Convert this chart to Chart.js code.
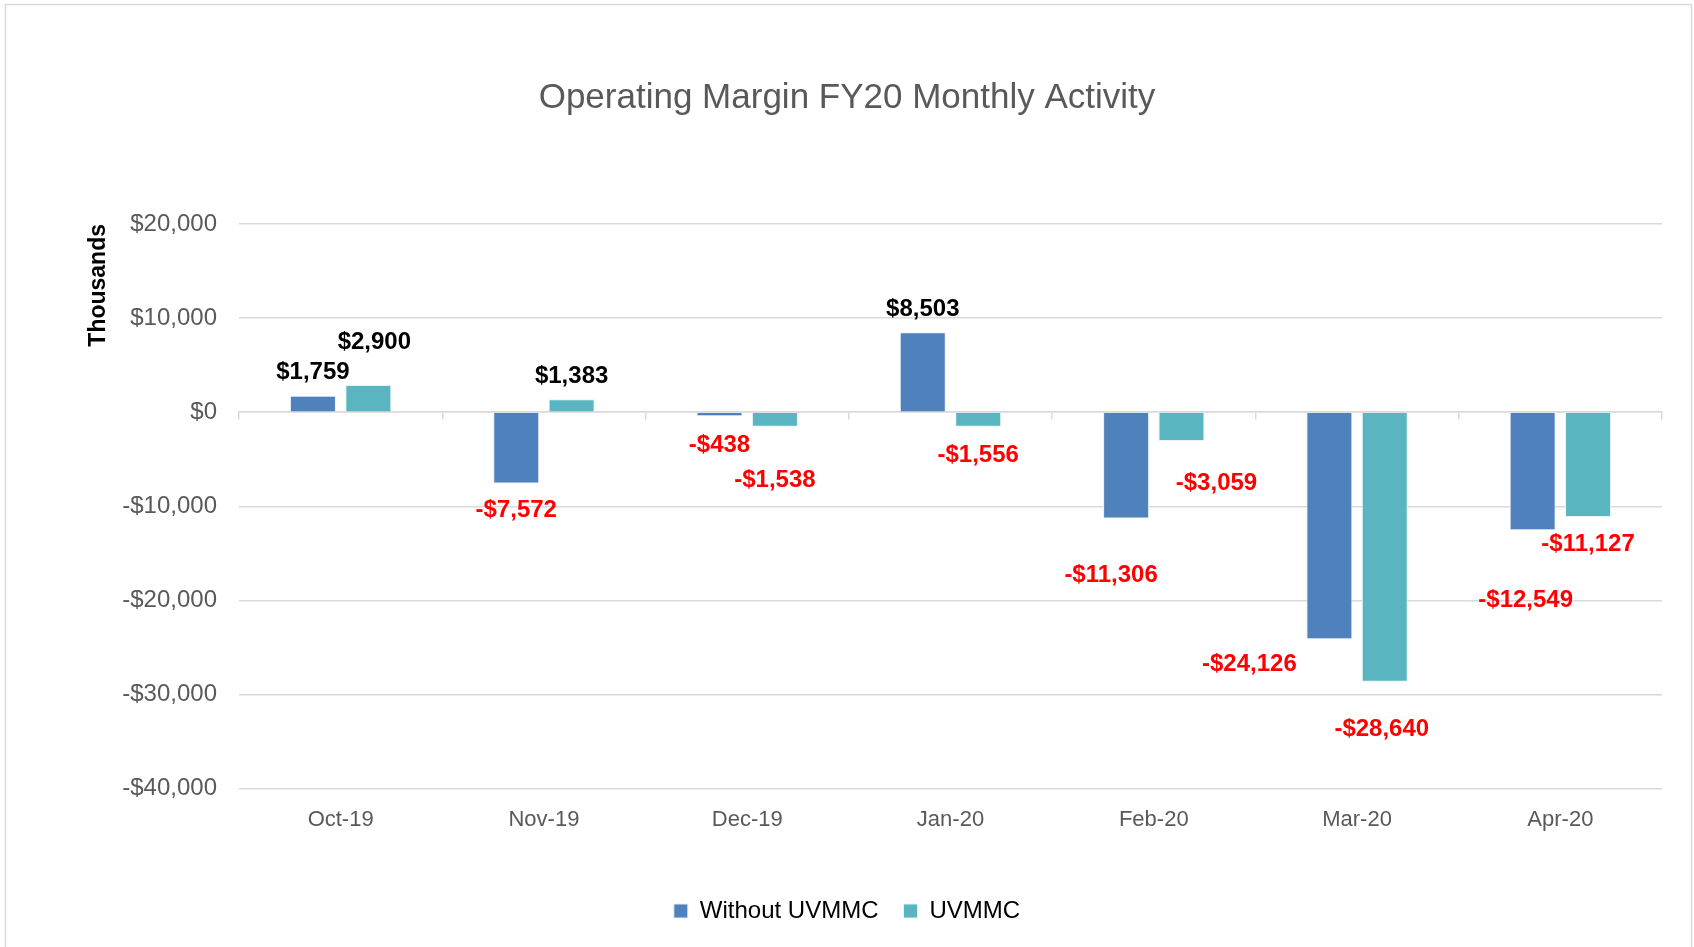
<!DOCTYPE html>
<html lang="en">
  <head>
    <meta charset="utf-8" />
    <title>Operating Margin FY20 Monthly Activity</title>
    <style>
      * {
        margin: 0;
        padding: 0;
      }
      body {
        background: #ffffff;
        width: 1694px;
        height: 947px;
        overflow: hidden;
      }
      .chartBox {
        position: absolute;
        left: 0;
        top: 0;
        width: 1694px;
        height: 947px;
      }
    </style>
  </head>
  <body>
    <div class="chartBox">
      <canvas id="myChart" width="1694" height="947"></canvas>
    </div>

    <script src="https://cdn.jsdelivr.net/npm/chart.js"></script>

    <script>
      // data block
      const months = ["Oct-19", "Nov-19", "Dec-19", "Jan-20", "Feb-20", "Mar-20", "Apr-20"];
      const withoutUvmmc = [1759, -7572, -438, 8503, -11306, -24126, -12549];
      const uvmmc = [2900, 1383, -1538, -1556, -3059, -28640, -11127];
      const yTicks = [20000, 10000, 0, -10000, -20000, -30000, -40000];

      // hand-placed label nudges (px), like the moved labels in the original
      const nudgeX = [
        [0, 0, 0, 0, -15, -80, -7],
        [6, 0, 0, 0, 35, -3, 0],
      ];
      const nudgeY = [
        [0, 0, 2, 0, 30, -2, 43],
        [-20, 0, 27, 2, 15, 21, 0],
      ];

      const fmt = (v) => (v < 0 ? "-$" : "$") + Math.abs(v).toLocaleString("en-US");

      // frame around the whole chart
      const chartFrame = {
        id: "chartFrame",
        beforeDraw(chart) {
          const { ctx } = chart;
          ctx.save();
          ctx.fillStyle = "#ffffff";
          ctx.fillRect(0, 0, chart.width, chart.height);
          ctx.strokeStyle = "#d9d9d9";
          ctx.lineWidth = 1.5;
          ctx.strokeRect(5.5, 4.5, 1686, 960);
          ctx.restore();
        },
      };

      // value labels at the end of each bar
      const barLabels = {
        id: "barLabels",
        afterDatasetsDraw(chart) {
          const { ctx } = chart;
          ctx.save();
          ctx.font = "bold 24px 'Liberation Sans', Arial, sans-serif";
          ctx.textAlign = "center";
          ctx.textBaseline = "middle";
          chart.data.datasets.forEach((ds, di) => {
            chart.getDatasetMeta(di).data.forEach((bar, i) => {
              const v = ds.data[i];
              const y = v >= 0 ? bar.y - 23 : bar.y + 27;
              ctx.fillStyle = v >= 0 ? "#000000" : "#ff0000";
              ctx.fillText(fmt(v), bar.x + nudgeX[di][i], y + nudgeY[di][i]);
            });
          });
          ctx.restore();
        },
      };

      const data = {
        labels: months,
        datasets: [
          {
            label: "Without UVMMC",
            data: withoutUvmmc,
            backgroundColor: "#4f81bd",
            borderColor: "#e8eef6",
            borderWidth: 1,
          },
          {
            label: "UVMMC",
            data: uvmmc,
            backgroundColor: "#59b5bf",
            borderColor: "#e6f3f5",
            borderWidth: 1,
          },
        ],
      };

      const config = {
        type: "bar",
        data: data,
        options: {
          responsive: false,
          animation: false,
          categoryPercentage: 0.545,
          barPercentage: 0.83,
          layout: {
            padding: { left: 32, right: 32, top: 0, bottom: 14 },
          },
          plugins: {
            title: {
              display: true,
              text: "Operating Margin FY20 Monthly Activity",
              color: "#595959",
              font: { family: "'Liberation Sans', Arial, sans-serif", size: 35, weight: "normal" },
              padding: { top: 77, bottom: 105 },
            },
            legend: {
              position: "bottom",
              labels: {
                color: "#000000",
                font: { family: "'Liberation Sans', Arial, sans-serif", size: 24 },
                boxWidth: 14,
                boxHeight: 14,
                padding: 25,
              },
            },
            tooltip: { enabled: false },
          },
          scales: {
            x: {
              grid: { display: false, drawTicks: false },
              border: { display: false },
              ticks: {
                color: "#595959",
                font: { family: "'Liberation Sans', Arial, sans-serif", size: 22 },
                padding: 18,
              },
              afterFit(scale) {
                // keep the gap to the legend as in the original
                scale.height += 23;
              },
            },
            x2: {
              type: "category",
              position: { y: 0 },
              offset: true,
              grid: {
                offset: true,
                drawOnChartArea: false,
                tickLength: 7,
                color: "#d9d9d9",
                lineWidth: 1.5,
              },
              border: { color: "#d9d9d9", width: 1.5 },
              ticks: { display: false },
            },
            y: {
              min: -40000,
              max: 20000,
              afterBuildTicks(scale) {
                scale.ticks = yTicks.map((v) => ({ value: v }));
              },
              afterFit(scale) {
                scale.width = 207;
              },
              grid: { color: "#d9d9d9", lineWidth: 1.5, drawTicks: false },
              border: { display: false },
              ticks: {
                color: "#595959",
                font: { family: "'Liberation Sans', Arial, sans-serif", size: 24 },
                padding: 22,
                callback: (v) => fmt(v),
              },
              title: {
                display: true,
                text: "Thousands",
                align: "end",
                color: "#000000",
                font: { family: "'Liberation Sans', Arial, sans-serif", size: 23, weight: "bold" },
                padding: { top: 53, bottom: 10 },
              },
            },
          },
        },
        plugins: [chartFrame, barLabels],
      };

      // init render block
      const myChart = new Chart(document.getElementById("myChart"), config);
    </script>
  </body>
</html>
